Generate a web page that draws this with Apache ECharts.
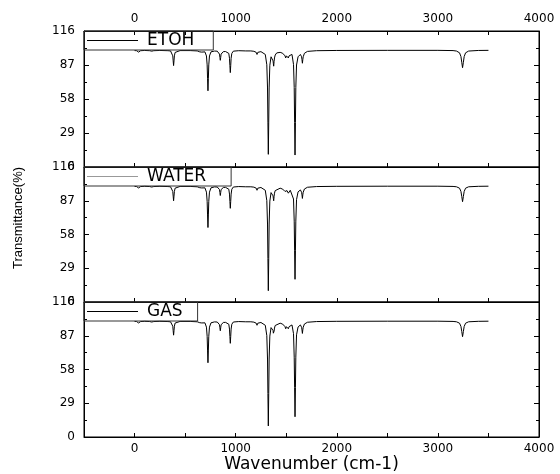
<!DOCTYPE html>
<html>
<head>
<meta charset="utf-8">
<title>Transmittance spectra</title>
<script src="https://cdn.jsdelivr.net/npm/echarts@6/dist/echarts.min.js"></script>
<style>
  html, body { margin: 0; padding: 0; background: #fff; }
  #chart { width: 560px; height: 474px; }
</style>
</head>
<body>
<div id="chart"></div>
<script>
// wavenumber (cm-1) points shared by the three spectra
const wavenumbers = [
  0, 20, 35, 40, 45, 60, 100, 150, 170, 190,
  250, 330, 356, 371, 378, 382, 386, 390, 394, 401,
  416, 450, 550, 620, 645, 655, 665, 696, 711, 718,
  722, 726, 730, 734, 741, 756, 790, 818, 833, 840,
  844, 848, 852, 856, 863, 878, 900, 917, 932, 939,
  943, 947, 951, 955, 962, 977, 1030, 1100, 1150, 1180,
  1196, 1203, 1207, 1211, 1215, 1219, 1226, 1250, 1263, 1293,
  1308, 1315, 1319, 1323, 1327, 1331, 1338, 1350, 1366, 1370,
  1373, 1376, 1380, 1384, 1391, 1406, 1440, 1465, 1480, 1488,
  1495, 1502, 1508, 1514, 1521, 1528, 1540, 1557, 1572, 1579,
  1583, 1587, 1591, 1595, 1602, 1617, 1640, 1652, 1656, 1660,
  1664, 1668, 1680, 1710, 1800, 2000, 2500, 3000, 3150, 3184,
  3214, 3228, 3236, 3244, 3252, 3260, 3274, 3304, 3400, 3500,
];

// transmittance (%)
const etoh = [
  99.3, 99.2, 98.6, 98.0, 98.6, 99.2, 99.4, 99.2, 98.8, 99.2,
  99.4, 99.2, 99.0, 97.7, 94.8, 90.5, 86.5, 90.5, 94.8, 97.7,
  99.0, 99.3, 99.3, 99.0, 98.2, 97.5, 98.0, 98.2, 94.7, 87.1,
  75.7, 65.0, 75.7, 87.1, 94.7, 98.2, 98.9, 98.8, 98.2, 96.3,
  93.5, 91.0, 93.5, 96.3, 98.0, 98.4, 98.5, 98.6, 96.9, 92.7,
  86.4, 80.5, 86.4, 92.7, 96.9, 98.8, 99.2, 99.0, 99.0, 98.7,
  98.5, 97.8, 97.0, 96.0, 97.0, 97.8, 98.3, 98.4, 98.2, 96.0,
  87.2, 67.4, 38.3, 10.8, 38.3, 67.4, 86.8, 94.0, 93.0, 90.5,
  88.0, 86.0, 90.0, 93.0, 95.5, 97.3, 97.8, 97.0, 96.0, 94.8,
  93.0, 94.8, 95.5, 94.8, 93.0, 94.8, 95.8, 96.0, 87.5, 67.8,
  38.0, 10.2, 38.0, 67.8, 87.0, 94.0, 96.0, 94.0, 91.5, 88.5,
  91.5, 94.0, 97.0, 98.6, 99.2, 99.4, 99.5, 99.5, 99.3, 98.9,
  97.4, 94.2, 89.3, 84.7, 89.3, 94.2, 97.4, 98.9, 99.4, 99.5,
];

const water = [
  99.3, 99.2, 98.6, 98.0, 98.6, 99.2, 99.4, 99.2, 98.8, 99.2,
  99.4, 99.2, 99.0, 97.8, 95.0, 91.0, 87.0, 91.0, 95.0, 97.8,
  99.0, 99.3, 99.3, 99.0, 98.2, 97.5, 98.0, 98.1, 94.4, 86.5,
  74.8, 64.0, 74.8, 86.5, 94.4, 98.1, 98.9, 98.8, 98.3, 96.6,
  94.0, 91.5, 94.0, 96.6, 98.0, 98.4, 98.5, 98.6, 96.9, 92.7,
  86.4, 80.5, 86.4, 92.7, 96.9, 98.8, 99.2, 99.0, 99.0, 98.7,
  98.5, 97.8, 97.0, 96.0, 97.0, 97.8, 98.3, 98.4, 98.2, 96.0,
  87.1, 67.0, 37.5, 9.7, 37.5, 67.0, 86.7, 94.0, 93.5, 91.2,
  88.8, 87.0, 90.8, 93.5, 95.7, 97.3, 97.8, 97.0, 96.2, 95.0,
  93.5, 95.0, 95.7, 95.0, 93.5, 95.0, 96.0, 96.4, 88.5, 69.5,
  44.0, 19.5, 44.0, 69.5, 88.0, 94.6, 96.3, 94.3, 92.0, 89.0,
  92.0, 94.3, 97.1, 98.6, 99.2, 99.4, 99.5, 99.5, 99.3, 99.0,
  97.8, 95.0, 90.7, 86.2, 90.7, 95.0, 97.8, 99.0, 99.4, 99.5,
];

const gas = [
  99.3, 99.2, 98.6, 98.0, 98.6, 99.2, 99.4, 99.2, 98.8, 99.2,
  99.4, 99.2, 99.0, 97.9, 95.2, 91.3, 87.5, 91.3, 95.2, 97.9,
  99.0, 99.3, 99.3, 99.0, 98.2, 97.5, 98.0, 98.1, 94.4, 86.5,
  74.7, 63.8, 74.7, 86.5, 94.4, 98.1, 98.9, 98.8, 98.2, 96.5,
  93.8, 91.3, 93.8, 96.5, 98.0, 98.4, 98.5, 98.6, 96.9, 92.7,
  86.4, 80.5, 86.4, 92.7, 96.9, 98.8, 99.2, 99.0, 99.0, 98.7,
  98.5, 97.8, 97.0, 96.0, 97.0, 97.8, 98.3, 98.4, 98.2, 96.0,
  87.1, 67.0, 37.4, 9.5, 37.4, 67.0, 86.7, 94.0, 93.6, 91.5,
  89.2, 87.5, 91.0, 93.6, 95.8, 97.3, 97.8, 97.0, 96.0, 94.8,
  93.0, 94.8, 95.5, 94.8, 93.0, 94.8, 95.9, 96.3, 88.8, 68.6,
  42.5, 17.4, 42.5, 68.6, 87.8, 94.5, 96.3, 94.3, 92.0, 89.0,
  92.0, 94.3, 97.1, 98.6, 99.2, 99.4, 99.5, 99.5, 99.3, 99.0,
  97.8, 95.0, 90.7, 86.2, 90.7, 95.0, 97.8, 99.0, 99.4, 99.5,
];

const seriesNames = ["ETOH", "WATER", "GAS"];
const seriesValues = [etoh, water, gas];
// x tick labels (minor ticks every 500 stay unlabelled)
const xLabels = [0, 1000, 2000, 3000, 4000];

const font = "DejaVu Sans";
const gridTops = [31, 167, 302];
const gridHeights = [136, 135, 135];
// right padding so each legend box ends where the original does
const legendPadRight = [19, 25, 15];
const legendLineColors = ["#000", "#999", "#000"];

const chart = echarts.init(document.getElementById("chart"));

const xLabelFormatter = (v) => (xLabels.includes(v) ? String(v) : "");

const makeXAxis = (gridIndex, position, showLabel) => ({
  type: "value",
  gridIndex,
  position,
  min: -500,
  max: 4000,
  interval: 500,
  axisLine: { show: true, onZero: false, lineStyle: { color: "#000" } },
  axisTick: { show: true, inside: true, length: 4, lineStyle: { color: "#000" } },
  axisLabel: {
    show: showLabel,
    margin: position === "top" ? 6 : 6,
    color: "#000",
    fontFamily: font,
    fontSize: 12,
    formatter: xLabelFormatter,
    showMinLabel: true,
    showMaxLabel: true,
  },
  splitLine: { show: false },
});

const makeYAxis = (gridIndex, position, showLabel) => ({
  type: "value",
  gridIndex,
  position,
  min: 0,
  max: 116,
  interval: 29,
  axisLine: { show: true, onZero: false, lineStyle: { color: "#000" } },
  axisTick: { show: true, inside: true, length: 5, lineStyle: { color: "#000" } },
  minorTick: { show: true, splitNumber: 2, length: 3, lineStyle: { color: "#000" } },
  axisLabel: {
    show: showLabel,
    margin: 9,
    color: "#000",
    fontFamily: font,
    fontSize: 12,
    showMinLabel: true,
    showMaxLabel: true,
  },
  splitLine: { show: false },
  minorSplitLine: { show: false },
});

const xAxes = [
  makeXAxis(0, "bottom", false),
  makeXAxis(1, "bottom", false),
  {
    ...makeXAxis(2, "bottom", true),
    name: "Wavenumber (cm-1)",
    nameLocation: "middle",
    nameGap: 17,
    nameTextStyle: { fontFamily: font, fontSize: 17, color: "#000" },
  },
  makeXAxis(0, "top", true),
];

const yAxes = [];
gridTops.forEach((_, i) => {
  yAxes.push(makeYAxis(i, "left", true));
  yAxes.push(makeYAxis(i, "right", false));
});

const options = {
  animation: false,
  backgroundColor: "#fff",
  grid: gridTops.map((top, i) => ({
    left: 84,
    right: 21,
    top,
    height: gridHeights[i],
    show: true,
    borderColor: "#000",
    borderWidth: 1,
  })),
  xAxis: xAxes,
  yAxis: yAxes,
  legend: seriesNames.map((name, i) => ({
    data: [name],
    left: 84,
    top: gridTops[i],
    orient: "horizontal",
    selectedMode: false,
    icon: "rect",
    itemWidth: 51,
    itemHeight: 1,
    itemStyle: { color: legendLineColors[i] },
    padding: [1, legendPadRight[i], 1, 3],
    borderColor: "#333",
    borderWidth: 1,
    textStyle: {
      fontFamily: font,
      fontSize: 17,
      lineHeight: 17,
      color: "#000",
      padding: [0, 0, 0, 4],
    },
  })),
  graphic: [
    {
      type: "text",
      x: 18,
      y: 218,
      rotation: Math.PI / 2,
      style: {
        text: "Transmittance(%)",
        fill: "#000",
        font: '13px "Liberation Sans", sans-serif',
        align: "center",
        verticalAlign: "middle",
        textAlign: "center",
        textVerticalAlign: "middle",
      },
    },
  ],
  series: seriesNames.map((name, i) => ({
    name,
    type: "line",
    xAxisIndex: i,
    yAxisIndex: i * 2,
    symbol: "none",
    sampling: null,
    lineStyle: { color: "#000", width: 1 },
    itemStyle: { color: "#000" },
    data: wavenumbers.map((w, k) => [w, seriesValues[i][k]]),
  })),
};

chart.setOption(options);
</script>
</body>
</html>
